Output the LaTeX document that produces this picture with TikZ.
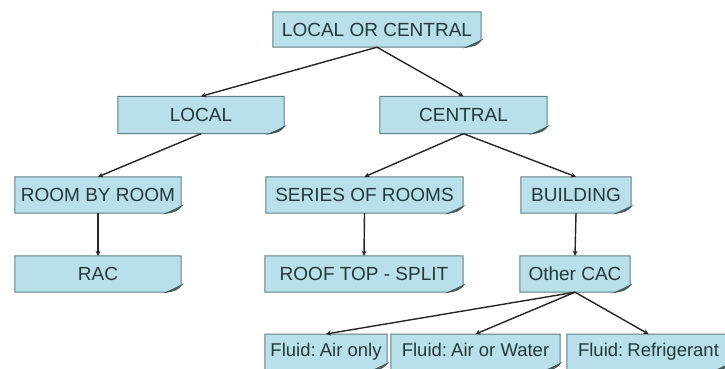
\documentclass[tikz,border=0pt]{standalone}
\usepackage{fontspec}
\setmainfont{Liberation Sans}
\usetikzlibrary{arrows.meta,backgrounds}
\definecolor{boxfill}{HTML}{B9E0E8}
\definecolor{boxline}{HTML}{5E7F86}
\definecolor{boxtext}{HTML}{22393D}
\definecolor{linec}{HTML}{262626}
\tikzset{
  notebox/.style={rectangle, draw=none, inner sep=0pt, minimum height=36pt,
    text=boxtext, font=\fontsize{19}{21}\selectfont},
  fluidbox/.style={notebox, font=\fontsize{18.5}{21}\selectfont},
  conn/.style={draw=linec, line width=1.4pt, -{Stealth[length=5pt,width=5pt]}}
}
\begin{document}
\begin{tikzpicture}[x=1pt,y=-1pt]
\clip (0,0) rectangle (725,368);
\useasboundingbox (0,0) rectangle (725,368);
\node[notebox, minimum width=208pt, minimum height=35pt] (top) at (377,29.5) {LOCAL OR CENTRAL};
\node[notebox, minimum width=166pt, minimum height=37pt] (local) at (201,115) {LOCAL};
\node[notebox, minimum width=167pt, minimum height=37pt] (central) at (463.5,115) {CENTRAL};
\node[notebox, minimum width=166pt] (rbr) at (98,195) {ROOM BY ROOM};
\node[notebox, minimum width=197pt] (series) at (364.5,195) {SERIES OF ROOMS};
\node[notebox, minimum width=110pt] (building) at (576,195) {BUILDING};
\node[notebox, minimum width=166pt] (rac) at (98,274) {RAC};
\node[notebox, minimum width=198pt] (roof) at (364,274) {ROOF TOP - SPLIT};
\node[notebox, minimum width=110pt] (cac) at (575,274) {Other CAC};
\node[fluidbox, minimum width=122pt, anchor=north] (fa) at (326,334) {\raisebox{0pt}[13pt][4pt]{Fluid:\kern-1pt\ Air only}};
\node[fluidbox, minimum width=169pt, anchor=north] (fw) at (475.5,334) {\raisebox{0pt}[13pt][4pt]{Fluid:\kern-1pt\ Air or Water}};
\node[fluidbox, minimum width=163pt, anchor=north] (fr) at (648.5,334) {\raisebox{0pt}[13pt][4pt]{Fluid:\kern-1pt\ Refrigerant}};
\begin{scope}[on background layer]
\foreach \n in {top,local,central,rbr,series,building,rac,roof,cac,fa,fw,fr}{
  \filldraw[fill=boxfill, draw=boxline, line width=1pt]
    (\n.north west) -- (\n.north east) -- ([yshift=7pt]\n.south east)
    .. controls ([xshift=-5pt,yshift=2pt]\n.south east) .. ([xshift=-15pt]\n.south east)
    -- (\n.south west) -- cycle;
  \filldraw[fill=boxline!80!black, draw=boxline!70!black, line width=0.8pt]
    ([yshift=7pt]\n.south east)
    .. controls ([xshift=-5pt,yshift=2pt]\n.south east) .. ([xshift=-15pt]\n.south east)
    .. controls ([xshift=-6pt,yshift=4pt]\n.south east) .. cycle;
}
\end{scope}
\draw[conn] (top.south) -- (local.north);
\draw[conn] (top.south) -- (central.north);
\draw[conn] (local.south) -- (rbr.north);
\draw[conn] (central.south) -- (series.north);
\draw[conn] (central.south) -- (building.north);
\draw[conn] (rbr.south) -- (rac.north);
\draw[conn] (series.south) -- (roof.north);
\draw[conn] (building.south) -- (cac.north);
\draw[conn] (cac.south) -- (fa.north);
\draw[conn] (cac.south) -- (fw.north);
\draw[conn] (cac.south) -- (fr.north);
\end{tikzpicture}
\end{document}
